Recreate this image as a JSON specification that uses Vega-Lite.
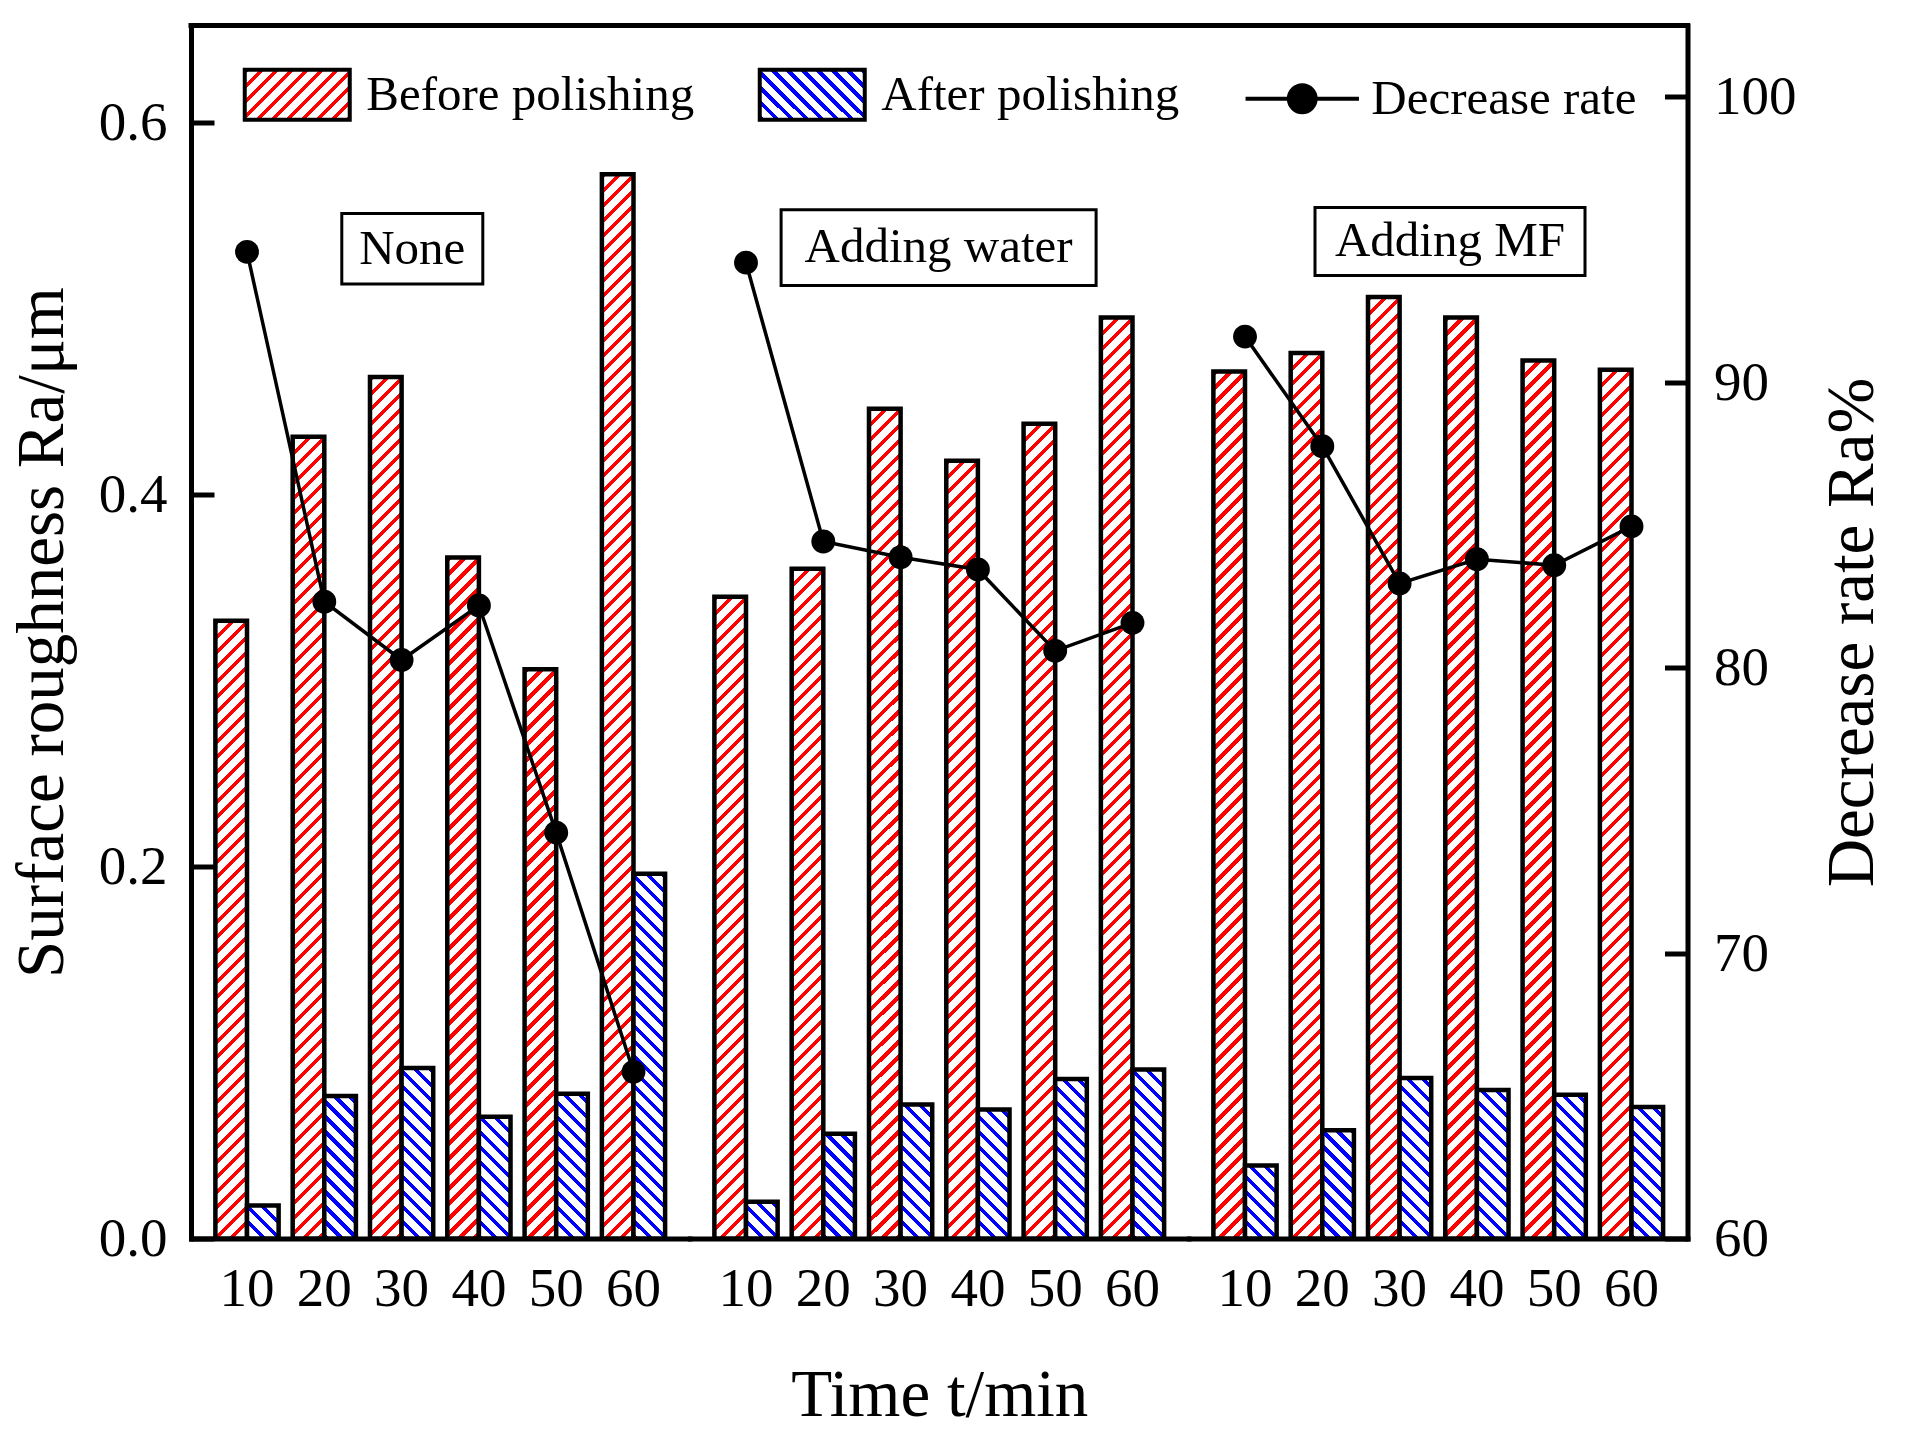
{
  "$schema": "https://vega.github.io/schema/vega-lite/v6.json",
  "description": "Surface roughness before/after polishing and decrease rate, three conditions.",
  "background": "white",
  "padding": {"left": 8, "top": 21.5, "right": 5, "bottom": 5},
  "spacing": 0,
  "bounds": "flush",
  "params": [
    {
      "name": "redStops",
      "value": [
        {"offset":0,"color":"red"},{"offset":0.004375,"color":"red"},{"offset":0.004375,"color":"white"},{"offset":0.0125,"color":"white"},
        {"offset":0.0125,"color":"red"},{"offset":0.016875,"color":"red"},{"offset":0.016875,"color":"white"},{"offset":0.025,"color":"white"},
        {"offset":0.025,"color":"red"},{"offset":0.029375,"color":"red"},{"offset":0.029375,"color":"white"},{"offset":0.0375,"color":"white"},
        {"offset":0.0375,"color":"red"},{"offset":0.041875,"color":"red"},{"offset":0.041875,"color":"white"},{"offset":0.05,"color":"white"},
        {"offset":0.05,"color":"red"},{"offset":0.054375,"color":"red"},{"offset":0.054375,"color":"white"},{"offset":0.0625,"color":"white"},
        {"offset":0.0625,"color":"red"},{"offset":0.066875,"color":"red"},{"offset":0.066875,"color":"white"},{"offset":0.075,"color":"white"},
        {"offset":0.075,"color":"red"},{"offset":0.079375,"color":"red"},{"offset":0.079375,"color":"white"},{"offset":0.0875,"color":"white"},
        {"offset":0.0875,"color":"red"},{"offset":0.091875,"color":"red"},{"offset":0.091875,"color":"white"},{"offset":0.1,"color":"white"},
        {"offset":0.1,"color":"red"},{"offset":0.104375,"color":"red"},{"offset":0.104375,"color":"white"},{"offset":0.1125,"color":"white"},
        {"offset":0.1125,"color":"red"},{"offset":0.116875,"color":"red"},{"offset":0.116875,"color":"white"},{"offset":0.125,"color":"white"},
        {"offset":0.125,"color":"red"},{"offset":0.129375,"color":"red"},{"offset":0.129375,"color":"white"},{"offset":0.1375,"color":"white"},
        {"offset":0.1375,"color":"red"},{"offset":0.141875,"color":"red"},{"offset":0.141875,"color":"white"},{"offset":0.15,"color":"white"},
        {"offset":0.15,"color":"red"},{"offset":0.154375,"color":"red"},{"offset":0.154375,"color":"white"},{"offset":0.1625,"color":"white"},
        {"offset":0.1625,"color":"red"},{"offset":0.166875,"color":"red"},{"offset":0.166875,"color":"white"},{"offset":0.175,"color":"white"},
        {"offset":0.175,"color":"red"},{"offset":0.179375,"color":"red"},{"offset":0.179375,"color":"white"},{"offset":0.1875,"color":"white"},
        {"offset":0.1875,"color":"red"},{"offset":0.191875,"color":"red"},{"offset":0.191875,"color":"white"},{"offset":0.2,"color":"white"},
        {"offset":0.2,"color":"red"},{"offset":0.204375,"color":"red"},{"offset":0.204375,"color":"white"},{"offset":0.2125,"color":"white"},
        {"offset":0.2125,"color":"red"},{"offset":0.216875,"color":"red"},{"offset":0.216875,"color":"white"},{"offset":0.225,"color":"white"},
        {"offset":0.225,"color":"red"},{"offset":0.229375,"color":"red"},{"offset":0.229375,"color":"white"},{"offset":0.2375,"color":"white"},
        {"offset":0.2375,"color":"red"},{"offset":0.241875,"color":"red"},{"offset":0.241875,"color":"white"},{"offset":0.25,"color":"white"},
        {"offset":0.25,"color":"red"},{"offset":0.254375,"color":"red"},{"offset":0.254375,"color":"white"},{"offset":0.2625,"color":"white"},
        {"offset":0.2625,"color":"red"},{"offset":0.266875,"color":"red"},{"offset":0.266875,"color":"white"},{"offset":0.275,"color":"white"},
        {"offset":0.275,"color":"red"},{"offset":0.279375,"color":"red"},{"offset":0.279375,"color":"white"},{"offset":0.2875,"color":"white"},
        {"offset":0.2875,"color":"red"},{"offset":0.291875,"color":"red"},{"offset":0.291875,"color":"white"},{"offset":0.3,"color":"white"},
        {"offset":0.3,"color":"red"},{"offset":0.304375,"color":"red"},{"offset":0.304375,"color":"white"},{"offset":0.3125,"color":"white"},
        {"offset":0.3125,"color":"red"},{"offset":0.316875,"color":"red"},{"offset":0.316875,"color":"white"},{"offset":0.325,"color":"white"},
        {"offset":0.325,"color":"red"},{"offset":0.329375,"color":"red"},{"offset":0.329375,"color":"white"},{"offset":0.3375,"color":"white"},
        {"offset":0.3375,"color":"red"},{"offset":0.341875,"color":"red"},{"offset":0.341875,"color":"white"},{"offset":0.35,"color":"white"},
        {"offset":0.35,"color":"red"},{"offset":0.354375,"color":"red"},{"offset":0.354375,"color":"white"},{"offset":0.3625,"color":"white"},
        {"offset":0.3625,"color":"red"},{"offset":0.366875,"color":"red"},{"offset":0.366875,"color":"white"},{"offset":0.375,"color":"white"},
        {"offset":0.375,"color":"red"},{"offset":0.379375,"color":"red"},{"offset":0.379375,"color":"white"},{"offset":0.3875,"color":"white"},
        {"offset":0.3875,"color":"red"},{"offset":0.391875,"color":"red"},{"offset":0.391875,"color":"white"},{"offset":0.4,"color":"white"},
        {"offset":0.4,"color":"red"},{"offset":0.404375,"color":"red"},{"offset":0.404375,"color":"white"},{"offset":0.4125,"color":"white"},
        {"offset":0.4125,"color":"red"},{"offset":0.416875,"color":"red"},{"offset":0.416875,"color":"white"},{"offset":0.425,"color":"white"},
        {"offset":0.425,"color":"red"},{"offset":0.429375,"color":"red"},{"offset":0.429375,"color":"white"},{"offset":0.4375,"color":"white"},
        {"offset":0.4375,"color":"red"},{"offset":0.441875,"color":"red"},{"offset":0.441875,"color":"white"},{"offset":0.45,"color":"white"},
        {"offset":0.45,"color":"red"},{"offset":0.454375,"color":"red"},{"offset":0.454375,"color":"white"},{"offset":0.4625,"color":"white"},
        {"offset":0.4625,"color":"red"},{"offset":0.466875,"color":"red"},{"offset":0.466875,"color":"white"},{"offset":0.475,"color":"white"},
        {"offset":0.475,"color":"red"},{"offset":0.479375,"color":"red"},{"offset":0.479375,"color":"white"},{"offset":0.4875,"color":"white"},
        {"offset":0.4875,"color":"red"},{"offset":0.491875,"color":"red"},{"offset":0.491875,"color":"white"},{"offset":0.5,"color":"white"},
        {"offset":0.5,"color":"red"},{"offset":0.504375,"color":"red"},{"offset":0.504375,"color":"white"},{"offset":0.5125,"color":"white"},
        {"offset":0.5125,"color":"red"},{"offset":0.516875,"color":"red"},{"offset":0.516875,"color":"white"},{"offset":0.525,"color":"white"},
        {"offset":0.525,"color":"red"},{"offset":0.529375,"color":"red"},{"offset":0.529375,"color":"white"},{"offset":0.5375,"color":"white"},
        {"offset":0.5375,"color":"red"},{"offset":0.541875,"color":"red"},{"offset":0.541875,"color":"white"},{"offset":0.55,"color":"white"},
        {"offset":0.55,"color":"red"},{"offset":0.554375,"color":"red"},{"offset":0.554375,"color":"white"},{"offset":0.5625,"color":"white"},
        {"offset":0.5625,"color":"red"},{"offset":0.566875,"color":"red"},{"offset":0.566875,"color":"white"},{"offset":0.575,"color":"white"},
        {"offset":0.575,"color":"red"},{"offset":0.579375,"color":"red"},{"offset":0.579375,"color":"white"},{"offset":0.5875,"color":"white"},
        {"offset":0.5875,"color":"red"},{"offset":0.591875,"color":"red"},{"offset":0.591875,"color":"white"},{"offset":0.6,"color":"white"},
        {"offset":0.6,"color":"red"},{"offset":0.604375,"color":"red"},{"offset":0.604375,"color":"white"},{"offset":0.6125,"color":"white"},
        {"offset":0.6125,"color":"red"},{"offset":0.616875,"color":"red"},{"offset":0.616875,"color":"white"},{"offset":0.625,"color":"white"},
        {"offset":0.625,"color":"red"},{"offset":0.629375,"color":"red"},{"offset":0.629375,"color":"white"},{"offset":0.6375,"color":"white"},
        {"offset":0.6375,"color":"red"},{"offset":0.641875,"color":"red"},{"offset":0.641875,"color":"white"},{"offset":0.65,"color":"white"},
        {"offset":0.65,"color":"red"},{"offset":0.654375,"color":"red"},{"offset":0.654375,"color":"white"},{"offset":0.6625,"color":"white"},
        {"offset":0.6625,"color":"red"},{"offset":0.666875,"color":"red"},{"offset":0.666875,"color":"white"},{"offset":0.675,"color":"white"},
        {"offset":0.675,"color":"red"},{"offset":0.679375,"color":"red"},{"offset":0.679375,"color":"white"},{"offset":0.6875,"color":"white"},
        {"offset":0.6875,"color":"red"},{"offset":0.691875,"color":"red"},{"offset":0.691875,"color":"white"},{"offset":0.7,"color":"white"},
        {"offset":0.7,"color":"red"},{"offset":0.704375,"color":"red"},{"offset":0.704375,"color":"white"},{"offset":0.7125,"color":"white"},
        {"offset":0.7125,"color":"red"},{"offset":0.716875,"color":"red"},{"offset":0.716875,"color":"white"},{"offset":0.725,"color":"white"},
        {"offset":0.725,"color":"red"},{"offset":0.729375,"color":"red"},{"offset":0.729375,"color":"white"},{"offset":0.7375,"color":"white"},
        {"offset":0.7375,"color":"red"},{"offset":0.741875,"color":"red"},{"offset":0.741875,"color":"white"},{"offset":0.75,"color":"white"},
        {"offset":0.75,"color":"red"},{"offset":0.754375,"color":"red"},{"offset":0.754375,"color":"white"},{"offset":0.7625,"color":"white"},
        {"offset":0.7625,"color":"red"},{"offset":0.766875,"color":"red"},{"offset":0.766875,"color":"white"},{"offset":0.775,"color":"white"},
        {"offset":0.775,"color":"red"},{"offset":0.779375,"color":"red"},{"offset":0.779375,"color":"white"},{"offset":0.7875,"color":"white"},
        {"offset":0.7875,"color":"red"},{"offset":0.791875,"color":"red"},{"offset":0.791875,"color":"white"},{"offset":0.8,"color":"white"},
        {"offset":0.8,"color":"red"},{"offset":0.804375,"color":"red"},{"offset":0.804375,"color":"white"},{"offset":0.8125,"color":"white"},
        {"offset":0.8125,"color":"red"},{"offset":0.816875,"color":"red"},{"offset":0.816875,"color":"white"},{"offset":0.825,"color":"white"},
        {"offset":0.825,"color":"red"},{"offset":0.829375,"color":"red"},{"offset":0.829375,"color":"white"},{"offset":0.8375,"color":"white"},
        {"offset":0.8375,"color":"red"},{"offset":0.841875,"color":"red"},{"offset":0.841875,"color":"white"},{"offset":0.85,"color":"white"},
        {"offset":0.85,"color":"red"},{"offset":0.854375,"color":"red"},{"offset":0.854375,"color":"white"},{"offset":0.8625,"color":"white"},
        {"offset":0.8625,"color":"red"},{"offset":0.866875,"color":"red"},{"offset":0.866875,"color":"white"},{"offset":0.875,"color":"white"},
        {"offset":0.875,"color":"red"},{"offset":0.879375,"color":"red"},{"offset":0.879375,"color":"white"},{"offset":0.8875,"color":"white"},
        {"offset":0.8875,"color":"red"},{"offset":0.891875,"color":"red"},{"offset":0.891875,"color":"white"},{"offset":0.9,"color":"white"},
        {"offset":0.9,"color":"red"},{"offset":0.904375,"color":"red"},{"offset":0.904375,"color":"white"},{"offset":0.9125,"color":"white"},
        {"offset":0.9125,"color":"red"},{"offset":0.916875,"color":"red"},{"offset":0.916875,"color":"white"},{"offset":0.925,"color":"white"},
        {"offset":0.925,"color":"red"},{"offset":0.929375,"color":"red"},{"offset":0.929375,"color":"white"},{"offset":0.9375,"color":"white"},
        {"offset":0.9375,"color":"red"},{"offset":0.941875,"color":"red"},{"offset":0.941875,"color":"white"},{"offset":0.95,"color":"white"},
        {"offset":0.95,"color":"red"},{"offset":0.954375,"color":"red"},{"offset":0.954375,"color":"white"},{"offset":0.9625,"color":"white"},
        {"offset":0.9625,"color":"red"},{"offset":0.966875,"color":"red"},{"offset":0.966875,"color":"white"},{"offset":0.975,"color":"white"},
        {"offset":0.975,"color":"red"},{"offset":0.979375,"color":"red"},{"offset":0.979375,"color":"white"},{"offset":0.9875,"color":"white"},
        {"offset":0.9875,"color":"red"},{"offset":0.991875,"color":"red"},{"offset":0.991875,"color":"white"},{"offset":1,"color":"white"}
      ]
    },
    {
      "name": "blueStops",
      "value": [
        {"offset":0,"color":"blue"},{"offset":0.00875,"color":"blue"},{"offset":0.00875,"color":"white"},{"offset":0.025,"color":"white"},
        {"offset":0.025,"color":"blue"},{"offset":0.03375,"color":"blue"},{"offset":0.03375,"color":"white"},{"offset":0.05,"color":"white"},
        {"offset":0.05,"color":"blue"},{"offset":0.05875,"color":"blue"},{"offset":0.05875,"color":"white"},{"offset":0.075,"color":"white"},
        {"offset":0.075,"color":"blue"},{"offset":0.08375,"color":"blue"},{"offset":0.08375,"color":"white"},{"offset":0.1,"color":"white"},
        {"offset":0.1,"color":"blue"},{"offset":0.10875,"color":"blue"},{"offset":0.10875,"color":"white"},{"offset":0.125,"color":"white"},
        {"offset":0.125,"color":"blue"},{"offset":0.13375,"color":"blue"},{"offset":0.13375,"color":"white"},{"offset":0.15,"color":"white"},
        {"offset":0.15,"color":"blue"},{"offset":0.15875,"color":"blue"},{"offset":0.15875,"color":"white"},{"offset":0.175,"color":"white"},
        {"offset":0.175,"color":"blue"},{"offset":0.18375,"color":"blue"},{"offset":0.18375,"color":"white"},{"offset":0.2,"color":"white"},
        {"offset":0.2,"color":"blue"},{"offset":0.20875,"color":"blue"},{"offset":0.20875,"color":"white"},{"offset":0.225,"color":"white"},
        {"offset":0.225,"color":"blue"},{"offset":0.23375,"color":"blue"},{"offset":0.23375,"color":"white"},{"offset":0.25,"color":"white"},
        {"offset":0.25,"color":"blue"},{"offset":0.25875,"color":"blue"},{"offset":0.25875,"color":"white"},{"offset":0.275,"color":"white"},
        {"offset":0.275,"color":"blue"},{"offset":0.28375,"color":"blue"},{"offset":0.28375,"color":"white"},{"offset":0.3,"color":"white"},
        {"offset":0.3,"color":"blue"},{"offset":0.30875,"color":"blue"},{"offset":0.30875,"color":"white"},{"offset":0.325,"color":"white"},
        {"offset":0.325,"color":"blue"},{"offset":0.33375,"color":"blue"},{"offset":0.33375,"color":"white"},{"offset":0.35,"color":"white"},
        {"offset":0.35,"color":"blue"},{"offset":0.35875,"color":"blue"},{"offset":0.35875,"color":"white"},{"offset":0.375,"color":"white"},
        {"offset":0.375,"color":"blue"},{"offset":0.38375,"color":"blue"},{"offset":0.38375,"color":"white"},{"offset":0.4,"color":"white"},
        {"offset":0.4,"color":"blue"},{"offset":0.40875,"color":"blue"},{"offset":0.40875,"color":"white"},{"offset":0.425,"color":"white"},
        {"offset":0.425,"color":"blue"},{"offset":0.43375,"color":"blue"},{"offset":0.43375,"color":"white"},{"offset":0.45,"color":"white"},
        {"offset":0.45,"color":"blue"},{"offset":0.45875,"color":"blue"},{"offset":0.45875,"color":"white"},{"offset":0.475,"color":"white"},
        {"offset":0.475,"color":"blue"},{"offset":0.48375,"color":"blue"},{"offset":0.48375,"color":"white"},{"offset":0.5,"color":"white"},
        {"offset":0.5,"color":"blue"},{"offset":0.50875,"color":"blue"},{"offset":0.50875,"color":"white"},{"offset":0.525,"color":"white"},
        {"offset":0.525,"color":"blue"},{"offset":0.53375,"color":"blue"},{"offset":0.53375,"color":"white"},{"offset":0.55,"color":"white"},
        {"offset":0.55,"color":"blue"},{"offset":0.55875,"color":"blue"},{"offset":0.55875,"color":"white"},{"offset":0.575,"color":"white"},
        {"offset":0.575,"color":"blue"},{"offset":0.58375,"color":"blue"},{"offset":0.58375,"color":"white"},{"offset":0.6,"color":"white"},
        {"offset":0.6,"color":"blue"},{"offset":0.60875,"color":"blue"},{"offset":0.60875,"color":"white"},{"offset":0.625,"color":"white"},
        {"offset":0.625,"color":"blue"},{"offset":0.63375,"color":"blue"},{"offset":0.63375,"color":"white"},{"offset":0.65,"color":"white"},
        {"offset":0.65,"color":"blue"},{"offset":0.65875,"color":"blue"},{"offset":0.65875,"color":"white"},{"offset":0.675,"color":"white"},
        {"offset":0.675,"color":"blue"},{"offset":0.68375,"color":"blue"},{"offset":0.68375,"color":"white"},{"offset":0.7,"color":"white"},
        {"offset":0.7,"color":"blue"},{"offset":0.70875,"color":"blue"},{"offset":0.70875,"color":"white"},{"offset":0.725,"color":"white"},
        {"offset":0.725,"color":"blue"},{"offset":0.73375,"color":"blue"},{"offset":0.73375,"color":"white"},{"offset":0.75,"color":"white"},
        {"offset":0.75,"color":"blue"},{"offset":0.75875,"color":"blue"},{"offset":0.75875,"color":"white"},{"offset":0.775,"color":"white"},
        {"offset":0.775,"color":"blue"},{"offset":0.78375,"color":"blue"},{"offset":0.78375,"color":"white"},{"offset":0.8,"color":"white"},
        {"offset":0.8,"color":"blue"},{"offset":0.80875,"color":"blue"},{"offset":0.80875,"color":"white"},{"offset":0.825,"color":"white"},
        {"offset":0.825,"color":"blue"},{"offset":0.83375,"color":"blue"},{"offset":0.83375,"color":"white"},{"offset":0.85,"color":"white"},
        {"offset":0.85,"color":"blue"},{"offset":0.85875,"color":"blue"},{"offset":0.85875,"color":"white"},{"offset":0.875,"color":"white"},
        {"offset":0.875,"color":"blue"},{"offset":0.88375,"color":"blue"},{"offset":0.88375,"color":"white"},{"offset":0.9,"color":"white"},
        {"offset":0.9,"color":"blue"},{"offset":0.90875,"color":"blue"},{"offset":0.90875,"color":"white"},{"offset":0.925,"color":"white"},
        {"offset":0.925,"color":"blue"},{"offset":0.93375,"color":"blue"},{"offset":0.93375,"color":"white"},{"offset":0.95,"color":"white"},
        {"offset":0.95,"color":"blue"},{"offset":0.95875,"color":"blue"},{"offset":0.95875,"color":"white"},{"offset":0.975,"color":"white"},
        {"offset":0.975,"color":"blue"},{"offset":0.98375,"color":"blue"},{"offset":0.98375,"color":"white"},{"offset":1,"color":"white"}
      ]
    }
  ],
  "datasets": {
    "ra": [
      {"group": "None", "time": 10, "before": 0.332, "after": 0.0177, "rate": 94.57},
      {"group": "None", "time": 20, "before": 0.431, "after": 0.0766, "rate": 82.31},
      {"group": "None", "time": 30, "before": 0.463, "after": 0.0916, "rate": 80.27},
      {"group": "None", "time": 40, "before": 0.366, "after": 0.0654, "rate": 82.18},
      {"group": "None", "time": 50, "before": 0.306, "after": 0.0778, "rate": 74.22},
      {"group": "None", "time": 60, "before": 0.572, "after": 0.196, "rate": 65.84},
      {"group": "Water", "time": 10, "before": 0.345, "after": 0.0197, "rate": 94.19},
      {"group": "Water", "time": 20, "before": 0.36, "after": 0.0563, "rate": 84.42},
      {"group": "Water", "time": 30, "before": 0.446, "after": 0.072, "rate": 83.87},
      {"group": "Water", "time": 40, "before": 0.418, "after": 0.0693, "rate": 83.44},
      {"group": "Water", "time": 50, "before": 0.438, "after": 0.0857, "rate": 80.59},
      {"group": "Water", "time": 60, "before": 0.495, "after": 0.0909, "rate": 81.57},
      {"group": "MF", "time": 10, "before": 0.466, "after": 0.0393, "rate": 91.6},
      {"group": "MF", "time": 20, "before": 0.476, "after": 0.0582, "rate": 87.76},
      {"group": "MF", "time": 30, "before": 0.506, "after": 0.0863, "rate": 82.95},
      {"group": "MF", "time": 40, "before": 0.495, "after": 0.0798, "rate": 83.8},
      {"group": "MF", "time": 50, "before": 0.472, "after": 0.0772, "rate": 83.59},
      {"group": "MF", "time": 60, "before": 0.467, "after": 0.0707, "rate": 84.95}
    ]
  },
  "hconcat": [
    {
      "width": 498.5,
      "height": 1213,
      "layer": [
        {
          "layer": [
            {
              "data": {"name": "ra"},
              "transform": [
                {"filter": "datum.group == 'None'"},
                {"fold": ["before", "after"], "as": ["series", "ra"]}
              ],
              "mark": {
                "type": "bar",
                "strokeWidth": 4.5,
                "fill": {"expr": "datum.value ? (datum.value == 'before' ? {gradient: 'linear', x1: 0, y1: 0, x2: 9.316, y2: 4.436, stops: redStops} : datum.value == 'after' ? {gradient: 'linear', x1: 0, y1: 1, x2: 4.658, y2: -1.218, stops: blueStops} : 'black') : datum.series == 'before' ? {gradient: 'linear', x1: 0, y1: 0, x2: 37920 / (998.56 + pow(1860.4 * datum.ra, 2)), y2: 2232480 * datum.ra / (998.56 + pow(1860.4 * datum.ra, 2)), stops: redStops} : {gradient: 'linear', x1: 0, y1: 1, x2: 18960 / (998.56 + pow(1860.4 * datum.ra, 2)), y2: 1 - 1116240 * datum.ra / (998.56 + pow(1860.4 * datum.ra, 2)), stops: blueStops}"}
              },
              "encoding": {
                "x": {
                  "field": "time",
                  "type": "ordinal",
                  "scale": {"paddingInner": 0.182, "paddingOuter": 0.3155},
                  "axis": {"title": null, "ticks": false, "labelAngle": 0, "labelPadding": 24}
                },
                "xOffset": {
                  "field": "series",
                  "type": "nominal",
                  "scale": {"domain": ["before", "after"], "paddingInner": 0, "paddingOuter": 0}
                },
                "y": {
                  "field": "ra",
                  "type": "quantitative",
                  "scale": {"domain": [0, 0.652], "nice": false},
                  "axis": {
                    "orient": "left",
                    "values": [0, 0.2, 0.4, 0.6],
                    "format": ".1f",
                    "tickSize": -23,
                    "labelPadding": 47,
                    "title": "Surface roughness Ra/μm",
                    "titlePadding": 22
                  }
                },
                "stroke": {
                  "field": "series",
                  "type": "nominal",
                  "scale": {"domain": ["before", "after", "rate"], "range": ["black", "black", "black"]},
                  "legend": {
                    "orient": "none",
                    "legendX": 51.75,
                    "legendY": 14.5,
                    "direction": "horizontal",
                    "title": null,
                    "symbolSize": 11025,
                    "symbolType": {"expr": "datum.value == 'rate' ? 'M-1.08,0H1.08M-0.255,0A0.255,0.255,0,1,1,0.255,0A0.255,0.255,0,1,1,-0.255,0Z' : 'M-1,-0.476H1V0.476H-1Z'"},
                    "symbolStrokeWidth": 4,
                    "symbolOpacity": 1,
                    "labelOffset": 14.5,
                    "columnPadding": 57,
                    "padding": 0,
                    "labelLimit": 0,
                    "labelExpr": "datum.value == 'before' ? 'Before polishing' : datum.value == 'after' ? 'After polishing' : 'Decrease rate'"
                  }
                }
              }
            },
            {
              "data": {"values": [{}]},
              "mark": {"type": "rule", "strokeWidth": 5, "strokeCap": "square", "color": "black"},
              "encoding": {
                "y": {"datum": 0.652, "type": "quantitative", "scale": {"domain": [0, 0.652], "nice": false}}
              }
            },
            {
              "data": {"values": [{}]},
              "mark": {"type": "bar", "width": 141, "xOffset": 10.7, "fill": "white", "stroke": "black", "strokeWidth": 3},
              "encoding": {
                "x": {"datum": 30, "type": "ordinal"},
                "y": {"datum": 0.551, "type": "quantitative", "scale": {"domain": [0, 0.652], "nice": false}},
                "y2": {"datum": 0.513}
              }
            },
            {
              "data": {"values": [{}]},
              "mark": {"type": "text", "text": "None", "fontSize": 49, "color": "black", "dx": 10.7, "baseline": "middle", "align": "center"},
              "encoding": {
                "x": {"datum": 30, "type": "ordinal"},
                "y": {"datum": 0.532, "type": "quantitative", "scale": {"domain": [0, 0.652], "nice": false}}
              }
            }
          ]
        },
        {
          "data": {"name": "ra"},
          "transform": [{"filter": "datum.group == 'None'"}],
          "layer": [
            {
              "mark": {"type": "line", "strokeWidth": 3.5},
              "encoding": {
                "x": {"field": "time", "type": "ordinal"},
                "y": {"field": "rate", "type": "quantitative", "scale": {"domain": [60, 102.5], "nice": false, "zero": false}, "axis": null},
                "stroke": {"datum": "rate", "type": "nominal", "scale": {"domain": ["before", "after", "rate"], "range": ["black", "black", "black"]}, "legend": null}
              }
            },
            {
              "mark": {"type": "point", "shape": "circle", "filled": true, "color": "black", "opacity": 1, "size": 570},
              "encoding": {
                "x": {"field": "time", "type": "ordinal"},
                "y": {"field": "rate", "type": "quantitative", "scale": {"domain": [60, 102.5], "nice": false, "zero": false}, "axis": null}
              }
            }
          ]
        }
      ],
      "resolve": {"scale": {"y": "independent"}}
    },
    {
      "width": 498.5,
      "height": 1213,
      "layer": [
        {
          "layer": [
            {
              "data": {"name": "ra"},
              "transform": [
                {"filter": "datum.group == 'Water'"},
                {"fold": ["before", "after"], "as": ["series", "ra"]}
              ],
              "mark": {
                "type": "bar",
                "strokeWidth": 4.5,
                "fill": {"expr": "datum.series == 'before' ? {gradient: 'linear', x1: 0, y1: 0, x2: 37920 / (998.56 + pow(1860.4 * datum.ra, 2)), y2: 2232480 * datum.ra / (998.56 + pow(1860.4 * datum.ra, 2)), stops: redStops} : {gradient: 'linear', x1: 0, y1: 1, x2: 18960 / (998.56 + pow(1860.4 * datum.ra, 2)), y2: 1 - 1116240 * datum.ra / (998.56 + pow(1860.4 * datum.ra, 2)), stops: blueStops}"}
              },
              "encoding": {
                "x": {
                  "field": "time",
                  "type": "ordinal",
                  "scale": {"paddingInner": 0.182, "paddingOuter": 0.3155},
                  "axis": {"title": "Time t/min", "titlePadding": 46, "ticks": false, "labelAngle": 0, "labelPadding": 24}
                },
                "xOffset": {
                  "field": "series",
                  "type": "nominal",
                  "scale": {"domain": ["before", "after"], "paddingInner": 0, "paddingOuter": 0}
                },
                "y": {
                  "field": "ra",
                  "type": "quantitative",
                  "scale": {"domain": [0, 0.652], "nice": false},
                  "axis": null
                },
                "stroke": {
                  "field": "series",
                  "type": "nominal",
                  "scale": {"domain": ["before", "after", "rate"], "range": ["black", "black", "black"]},
                  "legend": null
                }
              }
            },
            {
              "data": {"values": [{}]},
              "mark": {"type": "rule", "strokeWidth": 5, "strokeCap": "square", "color": "black"},
              "encoding": {
                "y": {"datum": 0.652, "type": "quantitative", "scale": {"domain": [0, 0.652], "nice": false}}
              }
            },
            {
              "data": {"values": [{}]},
              "mark": {"type": "bar", "width": 315, "xOffset": 38, "fill": "white", "stroke": "black", "strokeWidth": 3},
              "encoding": {
                "x": {"datum": 30, "type": "ordinal"},
                "y": {"datum": 0.553, "type": "quantitative", "scale": {"domain": [0, 0.652], "nice": false}},
                "y2": {"datum": 0.5123}
              }
            },
            {
              "data": {"values": [{}]},
              "mark": {"type": "text", "text": "Adding water", "fontSize": 49, "color": "black", "dx": 38, "baseline": "middle", "align": "center"},
              "encoding": {
                "x": {"datum": 30, "type": "ordinal"},
                "y": {"datum": 0.5327, "type": "quantitative", "scale": {"domain": [0, 0.652], "nice": false}}
              }
            }
          ]
        },
        {
          "data": {"name": "ra"},
          "transform": [{"filter": "datum.group == 'Water'"}],
          "layer": [
            {
              "mark": {"type": "line", "strokeWidth": 3.5},
              "encoding": {
                "x": {"field": "time", "type": "ordinal"},
                "y": {"field": "rate", "type": "quantitative", "scale": {"domain": [60, 102.5], "nice": false, "zero": false}, "axis": null},
                "stroke": {"datum": "rate", "type": "nominal", "scale": {"domain": ["before", "after", "rate"], "range": ["black", "black", "black"]}, "legend": null}
              }
            },
            {
              "mark": {"type": "point", "shape": "circle", "filled": true, "color": "black", "opacity": 1, "size": 570},
              "encoding": {
                "x": {"field": "time", "type": "ordinal"},
                "y": {"field": "rate", "type": "quantitative", "scale": {"domain": [60, 102.5], "nice": false, "zero": false}, "axis": null}
              }
            }
          ]
        }
      ],
      "resolve": {"scale": {"y": "independent"}}
    },
    {
      "width": 498.5,
      "height": 1213,
      "layer": [
        {
          "layer": [
            {
              "data": {"name": "ra"},
              "transform": [
                {"filter": "datum.group == 'MF'"},
                {"fold": ["before", "after"], "as": ["series", "ra"]}
              ],
              "mark": {
                "type": "bar",
                "strokeWidth": 4.5,
                "fill": {"expr": "datum.series == 'before' ? {gradient: 'linear', x1: 0, y1: 0, x2: 37920 / (998.56 + pow(1860.4 * datum.ra, 2)), y2: 2232480 * datum.ra / (998.56 + pow(1860.4 * datum.ra, 2)), stops: redStops} : {gradient: 'linear', x1: 0, y1: 1, x2: 18960 / (998.56 + pow(1860.4 * datum.ra, 2)), y2: 1 - 1116240 * datum.ra / (998.56 + pow(1860.4 * datum.ra, 2)), stops: blueStops}"}
              },
              "encoding": {
                "x": {
                  "field": "time",
                  "type": "ordinal",
                  "scale": {"paddingInner": 0.182, "paddingOuter": 0.3155},
                  "axis": {"title": null, "ticks": false, "labelAngle": 0, "labelPadding": 24}
                },
                "xOffset": {
                  "field": "series",
                  "type": "nominal",
                  "scale": {"domain": ["before", "after"], "paddingInner": 0, "paddingOuter": 0}
                },
                "y": {
                  "field": "ra",
                  "type": "quantitative",
                  "scale": {"domain": [0, 0.652], "nice": false},
                  "axis": null
                },
                "stroke": {
                  "field": "series",
                  "type": "nominal",
                  "scale": {"domain": ["before", "after", "rate"], "range": ["black", "black", "black"]},
                  "legend": null
                }
              }
            },
            {
              "data": {"values": [{}]},
              "mark": {"type": "rule", "strokeWidth": 5, "strokeCap": "square", "color": "black"},
              "encoding": {
                "y": {"datum": 0.652, "type": "quantitative", "scale": {"domain": [0, 0.652], "nice": false}}
              }
            },
            {
              "data": {"values": [{}]},
              "mark": {"type": "bar", "width": 270, "xOffset": 50.4, "fill": "white", "stroke": "black", "strokeWidth": 3},
              "encoding": {
                "x": {"datum": 30, "type": "ordinal"},
                "y": {"datum": 0.5542, "type": "quantitative", "scale": {"domain": [0, 0.652], "nice": false}},
                "y2": {"datum": 0.5176}
              }
            },
            {
              "data": {"values": [{}]},
              "mark": {"type": "text", "text": "Adding MF", "fontSize": 49, "color": "black", "dx": 50.4, "baseline": "middle", "align": "center"},
              "encoding": {
                "x": {"datum": 30, "type": "ordinal"},
                "y": {"datum": 0.5359, "type": "quantitative", "scale": {"domain": [0, 0.652], "nice": false}}
              }
            }
          ]
        },
        {
          "data": {"name": "ra"},
          "transform": [{"filter": "datum.group == 'MF'"}],
          "layer": [
            {
              "mark": {"type": "line", "strokeWidth": 3.5},
              "encoding": {
                "x": {"field": "time", "type": "ordinal"},
                "y": {
                  "field": "rate",
                  "type": "quantitative",
                  "scale": {"domain": [60, 102.5], "nice": false, "zero": false},
                  "axis": {
                    "orient": "right",
                    "values": [60, 70, 80, 90, 100],
                    "tickSize": -23,
                    "labelPadding": 49,
                    "title": "Decrease rate Ra%",
                    "titleAngle": 270,
                    "titleBaseline": "top",
                    "titlePadding": 23
                  }
                },
                "stroke": {"datum": "rate", "type": "nominal", "scale": {"domain": ["before", "after", "rate"], "range": ["black", "black", "black"]}, "legend": null}
              }
            },
            {
              "mark": {"type": "point", "shape": "circle", "filled": true, "color": "black", "opacity": 1, "size": 570},
              "encoding": {
                "x": {"field": "time", "type": "ordinal"},
                "y": {"field": "rate", "type": "quantitative", "scale": {"domain": [60, 102.5], "nice": false, "zero": false}}
              }
            }
          ]
        }
      ],
      "resolve": {"scale": {"y": "independent"}}
    }
  ],
  "config": {
    "view": {"stroke": null},
    "font": "Liberation Serif",
    "axis": {
      "grid": false,
      "domainColor": "black",
      "domainWidth": 5,
      "domainCap": "square",
      "tickColor": "black",
      "tickWidth": 5,
      "labelFont": "Liberation Serif",
      "labelFontSize": 55,
      "labelColor": "black",
      "titleFont": "Liberation Serif",
      "titleFontSize": 67,
      "titleFontWeight": "normal",
      "titleColor": "black"
    },
    "legend": {
      "labelFont": "Liberation Serif",
      "labelFontSize": 49,
      "labelColor": "black"
    },
    "text": {"font": "Liberation Serif"}
  }
}
